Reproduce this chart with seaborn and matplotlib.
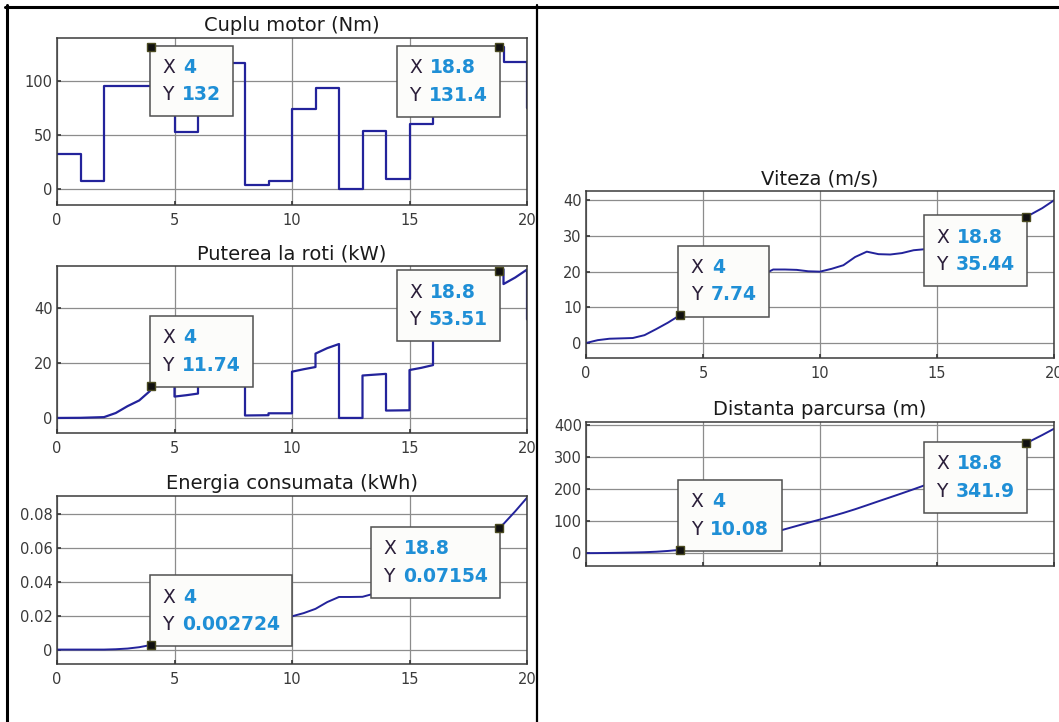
import matplotlib
matplotlib.use("Agg")
import matplotlib.pyplot as plt
import seaborn as sns
from matplotlib.lines import Line2D
from matplotlib.offsetbox import TextArea, HPacker, VPacker, AnnotationBbox
from matplotlib.ticker import FuncFormatter

# Cuplu motor (Nm): value held from each time to the next
torque_t = [0, 1, 2, 4, 5, 6, 7, 8, 9, 10, 11, 12, 13, 14, 15, 16, 17, 18, 18.5, 19, 20]
torque_v = [32, 7, 95, 132, 53, 100, 117, 4, 7, 74, 94, 0, 54, 9, 60, 100, 115, 129, 131.4, 118, 75]

# Puterea la roti (kW)
power_t = [0, 1, 2, 2.5, 3, 3.5, 3.95, 4, 4.5, 5, 5, 5.5, 6, 6, 6.5, 7, 7, 7.5, 8, 8, 9,
           9, 10, 10, 10.5, 11, 11, 11.5, 12, 12, 13, 13, 13.5, 14, 14, 15, 15, 15.5, 16,
           16, 16.5, 17, 17, 17.5, 18, 18, 18.5, 18.8, 19, 19, 19.5, 20, 20]
power_v = [0, 0.05, 0.3, 1.8, 4.3, 6.4, 9.8, 11.74, 14.5, 17.5, 7.8, 8.3, 8.9, 15.5, 17.0, 18.9, 22.5, 25.0, 27.5, 0.9, 1.0,
           1.7, 1.7, 16.9, 17.8, 18.6, 23.5, 25.5, 27.0, 0, 0, 15.5, 15.8, 16.1, 2.7, 2.8, 17.5, 18.3, 19.3,
           32.5, 34.3, 36.0, 41.5, 43.4, 44.8, 50.6, 52.3, 53.51, 54.3, 48.9, 51.3, 54.2, 36.0]

# common time base for the smooth series
time_s = [0, 0.5, 1, 1.5, 2, 2.5, 3, 3.5, 4, 4.5, 5, 5.5, 6, 6.5, 7, 7.5, 8, 8.5, 9, 9.5, 10,
          10.5, 11, 11.5, 12, 12.5, 13, 13.5, 14, 14.5, 15, 15.5, 16, 16.5, 17, 17.5, 18, 18.5,
          18.8, 19, 19.5, 20]

# Energia consumata (kWh)
energy = [0, 0, 0, 0, 0, 0.0002, 0.0006, 0.0014, 0.002724, 0.0045, 0.0066, 0.0077, 0.0089, 0.0109,
          0.0133, 0.0162, 0.0190, 0.0192, 0.0193, 0.0194, 0.0196, 0.0215, 0.0240, 0.0280, 0.0310,
          0.0310, 0.0311, 0.0330, 0.0345, 0.0350, 0.0355, 0.0380, 0.0405, 0.0447, 0.0490, 0.0545,
          0.0603, 0.0672, 0.07154, 0.0740, 0.0815, 0.0895]

# Viteza (m/s)
speed = [0, 0.8, 1.2, 1.3, 1.4, 2.2, 3.9, 5.7, 7.74, 10.0, 12.0, 12.8, 13.6, 15.4, 17.2, 19.0,
         20.6, 20.6, 20.5, 20.1, 20.0, 20.8, 21.8, 24.1, 25.6, 24.9, 24.8, 25.2, 26.0, 26.3, 26.6,
         27.6, 28.5, 30.0, 31.4, 32.8, 34.0, 34.9, 35.44, 36.0, 37.8, 40.0]

# Distanta parcursa (m)
distance = [0, 0.2, 0.7, 1.3, 2.0, 2.9, 4.4, 6.8, 10.08, 14.4, 19.6, 25.4, 31.6, 38.4, 46.0, 54.6,
            64.2, 74.4, 84.6, 94.7, 104.6, 114.7, 125.2, 136.6, 148.9, 161.4, 173.7, 186.1, 198.8,
            211.8, 224.9, 238.3, 252.2, 266.7, 281.9, 297.8, 314.4, 331.4, 341.9, 349.0, 367.5, 387.0]

# data tips: (x, y, label of y)
torque_tips = [(4, 132, "132"), (18.8, 131.4, "131.4")]
power_tips = [(4, 11.74, "11.74"), (18.8, 53.51, "53.51")]
energy_tips = [(4, 0.002724, "0.002724"), (18.8, 0.07154, "0.07154")]
speed_tips = [(4, 7.74, "7.74"), (18.8, 35.44, "35.44")]
distance_tips = [(4, 10.08, "10.08"), (18.8, 341.9, "341.9")]

LINE = "#23239b"
BLUE = "#1f8fd6"
DARK = "#2b1f3a"
TIP_PAD = 0.8  # in units of the 10 pt default font size

sns.set_theme(style="white")
plt.rcParams["font.family"] = ["DejaVu Sans"]

W, H = 1059, 722
fig = plt.figure(figsize=(W / 100, H / 100), dpi=100, facecolor="white")


def add_axes(x0, y0, x1, y1):
    return fig.add_axes([x0 / W, 1 - y1 / H, (x1 - x0) / W, (y1 - y0) / H])


def style_axes(ax, title, ylim, yticks, xlabels=True):
    ax.set_xlim(0, 20)
    ax.set_ylim(*ylim)
    ax.set_xticks([0, 5, 10, 15, 20])
    ax.set_yticks(yticks)
    ax.yaxis.set_major_formatter(FuncFormatter(lambda v, p: "0" if v == 0 else f"{v:g}"))
    ax.set_xlabel("")
    ax.set_ylabel("")
    ax.set_title(title, fontsize=14, pad=5, color="#1a1a1a")
    ax.grid(True, color="#8c8c8c", lw=0.9)
    ax.set_axisbelow(True)
    for s in ax.spines.values():
        s.set_visible(True)
        s.set_color("#3a3a3a")
        s.set_linewidth(1.1)
    ax.tick_params(direction="in", length=3, labelsize=10.5, colors="#3a3a3a",
                   left=True, bottom=True)
    ax.tick_params(axis="x", pad=6)
    ax.tick_params(axis="y", pad=3)
    if not xlabels:
        ax.tick_params(axis="x", labelbottom=False)


def datatip(ax, x, y, ylabel, corner):
    ax.plot([x], [y], marker="s", ms=6, color="#111111", mec="#4a4a20", zorder=8)
    tp_l = dict(color=DARK, fontsize=13.5)
    tp_v = dict(color=BLUE, fontsize=13.5, fontweight="bold")
    row1 = HPacker(children=[TextArea("X", textprops=tp_l), TextArea(f"{x:g}", textprops=tp_v)],
                   sep=6, align="baseline")
    row2 = HPacker(children=[TextArea("Y", textprops=tp_l), TextArea(ylabel, textprops=tp_v)],
                   sep=6, align="baseline")
    box = VPacker(children=[row1, row2], sep=6, align="left", pad=0)
    # shift so that the frame corner (not the text corner) sits on the marker
    off = TIP_PAD * 10
    dx = off if corner[0] == 0 else -off
    dy = off if corner[1] == 0 else -off
    ab = AnnotationBbox(box, (x, y), xybox=(dx, dy), boxcoords="offset points",
                        box_alignment=corner, pad=TIP_PAD, frameon=True,
                        bboxprops=dict(fc="#fcfcfa", ec="#505050", lw=1.1), zorder=6)
    ax.add_artist(ab)


# ---- left column
ax1 = add_axes(57, 38, 527, 205)
sns.lineplot(x=torque_t, y=torque_v, ax=ax1, color=LINE, lw=1.6, sort=False,
             estimator=None, drawstyle="steps-post")
style_axes(ax1, "Cuplu motor (Nm)", (-15, 140), [0, 50, 100])
datatip(ax1, *torque_tips[0], corner=(0, 1))
datatip(ax1, *torque_tips[1], corner=(1, 1))

ax2 = add_axes(57, 266, 527, 433)
sns.lineplot(x=power_t, y=power_v, ax=ax2, color=LINE, lw=1.6, sort=False, estimator=None)
style_axes(ax2, "Puterea la roti (kW)", (-5.5, 55.5), [0, 20, 40])
datatip(ax2, *power_tips[0], corner=(0, 0))
datatip(ax2, *power_tips[1], corner=(1, 1))

ax3 = add_axes(57, 496, 527, 664)
sns.lineplot(x=time_s, y=energy, ax=ax3, color=LINE, lw=1.4, sort=False, estimator=None)
style_axes(ax3, "Energia consumata (kWh)", (-0.0085, 0.0905), [0, 0.02, 0.04, 0.06, 0.08])
datatip(ax3, *energy_tips[0], corner=(0, 0))
datatip(ax3, *energy_tips[1], corner=(1, 1))

# ---- right column
ax4 = add_axes(586, 191, 1054, 358)
sns.lineplot(x=time_s, y=speed, ax=ax4, color=LINE, lw=1.4, sort=False, estimator=None)
style_axes(ax4, "Viteza (m/s)", (-4.2, 42.6), [0, 10, 20, 30, 40])
datatip(ax4, *speed_tips[0], corner=(0, 0))
datatip(ax4, *speed_tips[1], corner=(1, 1))

ax5 = add_axes(586, 422, 1054, 566)
sns.lineplot(x=time_s, y=distance, ax=ax5, color=LINE, lw=1.4, sort=False, estimator=None)
style_axes(ax5, "Distanta parcursa (m)", (-40, 408), [0, 100, 200, 300, 400], xlabels=False)
datatip(ax5, *distance_tips[0], corner=(0, 0))
datatip(ax5, *distance_tips[1], corner=(1, 1))

# table cell borders around the two columns
for x0, y0, x1, y1, lw in [(5, 6.5, W, 6.5, 2.2), (6.5, 5, 6.5, H, 2.2), (536.5, 5, 536.5, H, 1.6)]:
    fig.add_artist(Line2D([x0 / W, x1 / W], [1 - y0 / H, 1 - y1 / H],
                          transform=fig.transFigure, color="black", lw=lw))

fig.savefig("out.png", dpi=100, facecolor="white")
